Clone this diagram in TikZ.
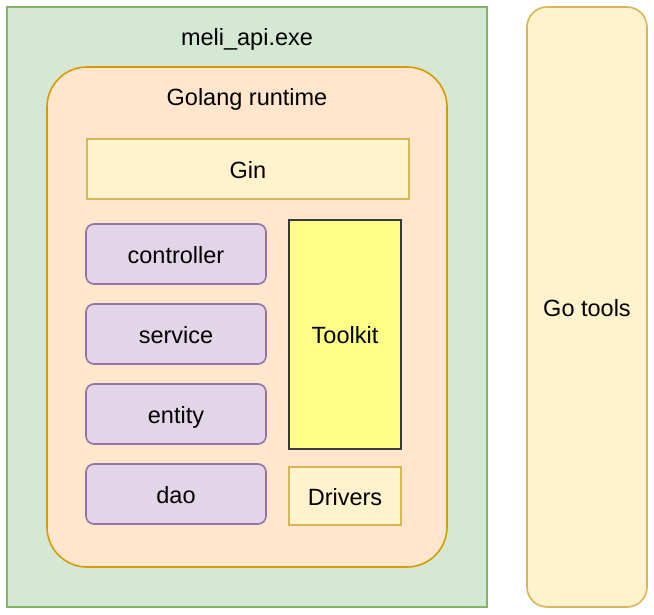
\documentclass[tikz,border=0pt]{standalone}
\usepackage{fontspec}
\setmainfont{Liberation Sans}
\usepackage{tikz}
\usetikzlibrary{positioning,calc}
\definecolor{vertFond}{HTML}{D5E8D4}
\definecolor{vertTrait}{HTML}{82B366}
\definecolor{orangeFond}{HTML}{FFE6CC}
\definecolor{orangeTrait}{HTML}{D79B00}
\definecolor{jauneFond}{HTML}{FFF2CC}
\definecolor{jauneTrait}{HTML}{D6B656}
\definecolor{violetFond}{HTML}{E1D5E7}
\definecolor{violetTrait}{HTML}{9673A6}
\definecolor{citronFond}{HTML}{FFFF88}
\definecolor{grisTrait}{HTML}{36393D}
\begin{document}
\begin{tikzpicture}[x=1pt,y=-1pt]
\tikzstyle{titre}=[inner sep=0pt,text height=20pt,text depth=1.5pt,font=\fontsize{23.5}{27}\selectfont]
\tikzstyle{boite}=[titre,draw,line width=1.6pt]
\tikzstyle{programme}=[boite,fill=vertFond,draw=vertTrait]
\tikzstyle{execution}=[boite,fill=orangeFond,draw=orangeTrait,rounded corners=40pt]
\tikzstyle{cadre}=[boite,fill=jauneFond,draw=jauneTrait]
\tikzstyle{couche}=[boite,fill=violetFond,draw=violetTrait,rounded corners=8pt,minimum width=180pt,minimum height=60pt]
\tikzstyle{outil}=[boite,fill=citronFond,draw=grisTrait]
\def\ColonneCouches{176}
\def\ColonneOutils{345}
\def\InterCouches{80}
\useasboundingbox (0,0) rectangle (654,614);
\node[programme,minimum width=480pt,minimum height=600pt] (Exe) at (247,307) {};
\node[titre] (ExeTitre) at (247,36) {meli\_api.exe};
\node[execution,minimum width=400pt,minimum height=500pt] (Runtime) at (247,317) {};
\node[titre] (RuntimeTitre) at (247,96) {Golang runtime};
\node[cadre,minimum width=322pt,minimum height=60pt] (Gin) at (248,169) {Gin};
\node[couche] (Controller) at ({\ColonneCouches},{254+0*\InterCouches}) {controller};
\node[couche] (Service) at ({\ColonneCouches},{254+1*\InterCouches}) {service};
\node[couche] (Entity) at ({\ColonneCouches},{254+2*\InterCouches}) {entity};
\node[couche] (Dao) at ({\ColonneCouches},{254+3*\InterCouches}) {dao};
\node[outil,minimum width=112pt,minimum height=229pt] (Toolkit) at ({\ColonneOutils},334.5) {Toolkit};
\node[cadre,minimum width=112pt,minimum height=58pt] (Drivers) at ({\ColonneOutils},496) {Drivers};
\node[cadre,rounded corners=20pt,minimum width=120pt,minimum height=600pt] (GoTools) at (587,307) {Go tools};
\end{tikzpicture}
\end{document}
